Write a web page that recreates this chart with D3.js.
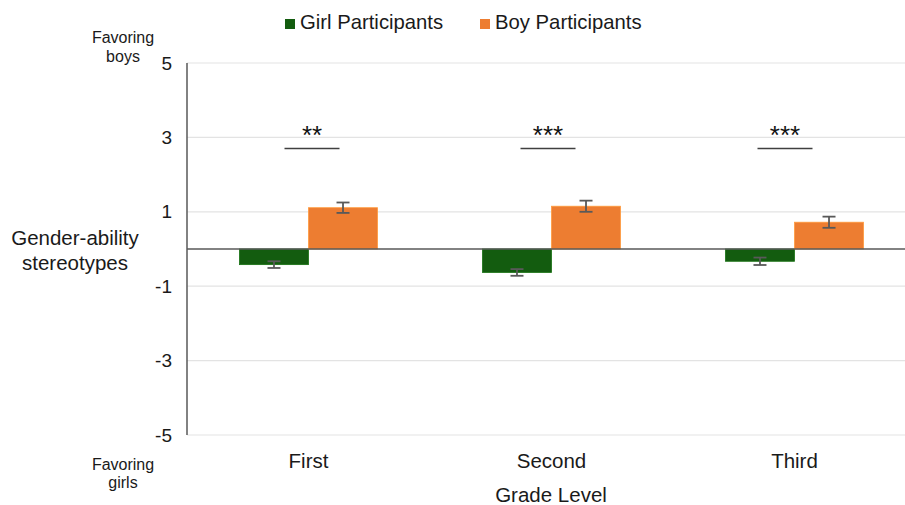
<!DOCTYPE html>
<html>
<head>
<meta charset="utf-8">
<script src="https://cdn.jsdelivr.net/npm/d3@7"></script>
<style>
  html, body { margin: 0; padding: 0; background: #ffffff; }
  svg { display: block; font-family: "Liberation Sans", Arial, sans-serif; }
</style>
</head>
<body>
<svg id="chart" width="905" height="505"></svg>
<script>
// Grade levels and the two participant groups
const grades = ["First", "Second", "Third"];
const seriesNames = ["Girl Participants", "Boy Participants"];
const seriesColors = ["#135c0f", "#ed7d31"];

// Mean gender-ability stereotype scores and standard errors
const girlMeans = [-0.42, -0.63, -0.33];
const boyMeans = [1.11, 1.15, 0.72];
const girlErrors = [0.09, 0.09, 0.10];
const boyErrors = [0.14, 0.15, 0.15];

// Significance markers per grade
const sigLabels = ["**", "***", "***"];
const sigLevel = 2.7;

const yTicks = [5, 3, 1, -1, -3, -5];

const svg = d3.select("#chart");
const plotLeft = 187, plotRight = 916, plotTop = 63, plotBottom = 435;
// horizontal nudge of each significance bracket from its group centre (px)
const bracketShift = [3.5, -3.5, -9.5];

const y = d3.scaleLinear().domain([-5, 5]).range([plotBottom, plotTop]);
const x0 = d3.scaleBand().domain(grades).range([plotLeft, plotRight]).paddingInner(0).paddingOuter(0);
const x1 = d3.scaleBand().domain(seriesNames).range([0, x0.bandwidth()]).paddingInner(0).paddingOuter(0.76);

const rows = grades.map((g, i) => ({
  grade: g,
  values: [
    { name: seriesNames[0], mean: girlMeans[i], err: girlErrors[i], color: seriesColors[0] },
    { name: seriesNames[1], mean: boyMeans[i], err: boyErrors[i], color: seriesColors[1] }
  ]
}));

// Horizontal gridlines
svg.append("g")
  .selectAll("line")
  .data(yTicks)
  .join("line")
  .attr("x1", plotLeft).attr("x2", plotRight)
  .attr("y1", d => y(d)).attr("y2", d => y(d))
  .attr("stroke", "#e3e3e3").attr("stroke-width", 1.2);

// Y axis with tick labels only
const yAxis = d3.axisLeft(y).tickValues(yTicks).tickSize(0).tickPadding(15).tickFormat(d => String(d));
const yg = svg.append("g").attr("transform", `translate(${plotLeft},0)`).call(yAxis);
yg.select(".domain").remove();
yg.selectAll("text").attr("font-size", 19).attr("fill", "#1a1a1a")
  .attr("font-family", "'Liberation Sans', Arial, sans-serif");

// Bars
const groups = svg.append("g").selectAll("g")
  .data(rows)
  .join("g")
  .attr("transform", d => `translate(${x0(d.grade)},0)`);

groups.selectAll("rect")
  .data(d => d.values)
  .join("rect")
  .attr("x", d => x1(d.name))
  .attr("width", x1.bandwidth())
  .attr("y", d => y(Math.max(0, d.mean)))
  .attr("height", d => Math.abs(y(d.mean) - y(0)))
  .attr("fill", d => d.color)
  .attr("stroke", d => d3.color(d.color).brighter(0.6))
  .attr("stroke-width", 0.8);

// Error bars
const eb = groups.selectAll("g.err")
  .data(d => d.values)
  .join("g")
  .attr("class", "err")
  .attr("transform", d => `translate(${x1(d.name) + x1.bandwidth() / 2},0)`);
eb.append("line")
  .attr("y1", d => y(d.mean - d.err)).attr("y2", d => y(d.mean + d.err))
  .attr("stroke", "#595959").attr("stroke-width", 1.8);
eb.selectAll("line.cap")
  .data(d => [d.mean - d.err, d.mean + d.err])
  .join("line")
  .attr("class", "cap")
  .attr("x1", -6.5).attr("x2", 6.5)
  .attr("y1", d => y(d)).attr("y2", d => y(d))
  .attr("stroke", "#595959").attr("stroke-width", 1.8);

// Zero baseline and vertical axis line
svg.append("line")
  .attr("x1", plotLeft).attr("x2", plotRight)
  .attr("y1", y(0)).attr("y2", y(0))
  .attr("stroke", "#595959").attr("stroke-width", 1.5);
svg.append("line")
  .attr("x1", plotLeft).attr("x2", plotLeft)
  .attr("y1", y(5)).attr("y2", y(-5))
  .attr("stroke", "#595959").attr("stroke-width", 1.5);

// Significance brackets
const sig = svg.append("g").selectAll("g")
  .data(grades)
  .join("g")
  .attr("transform", (d, i) => `translate(${x0(d) + x0.bandwidth() / 2 + bracketShift[i]},0)`);
sig.append("line")
  .attr("x1", -27.5).attr("x2", 27.5)
  .attr("y1", y(sigLevel)).attr("y2", y(sigLevel))
  .attr("stroke", "#404040").attr("stroke-width", 1.5);
sig.append("text")
  .attr("text-anchor", "middle")
  .attr("y", y(sigLevel) - 5)
  .attr("font-size", 26)
  .attr("fill", "#111")
  .text((d, i) => sigLabels[i]);

// Category labels
svg.append("g").selectAll("text")
  .data(grades)
  .join("text")
  .attr("x", d => x0(d) + x0.bandwidth() / 2)
  .attr("y", 468)
  .attr("text-anchor", "middle")
  .attr("font-size", 20.5)
  .attr("fill", "#1a1a1a")
  .text(d => d);

// Axis titles
svg.append("text")
  .attr("x", 551).attr("y", 502)
  .attr("text-anchor", "middle").attr("font-size", 20.5).attr("fill", "#1a1a1a")
  .text("Grade Level");

const yTitle = svg.append("text")
  .attr("text-anchor", "middle").attr("font-size", 20.5).attr("fill", "#1a1a1a");
yTitle.append("tspan").attr("x", 75).attr("y", 245).text("Gender-ability");
yTitle.append("tspan").attr("x", 75).attr("y", 270).text("stereotypes");

const topNote = svg.append("text")
  .attr("text-anchor", "middle").attr("font-size", 16).attr("fill", "#1a1a1a");
topNote.append("tspan").attr("x", 123).attr("y", 43).text("Favoring");
topNote.append("tspan").attr("x", 123).attr("y", 61.5).text("boys");

const bottomNote = svg.append("text")
  .attr("text-anchor", "middle").attr("font-size", 16).attr("fill", "#1a1a1a");
bottomNote.append("tspan").attr("x", 123).attr("y", 470).text("Favoring");
bottomNote.append("tspan").attr("x", 123).attr("y", 488).text("girls");

// Legend
const legendX = [285, 480];
const legend = svg.append("g").selectAll("g")
  .data(seriesNames)
  .join("g")
  .attr("transform", (d, i) => `translate(${legendX[i]},0)`);
legend.append("rect")
  .attr("x", 0).attr("y", 19).attr("width", 10).attr("height", 10)
  .attr("fill", (d, i) => seriesColors[i]);
legend.append("text")
  .attr("x", 15).attr("y", 28.5)
  .attr("font-size", 20.3).attr("fill", "#1a1a1a")
  .text(d => d);
</script>
</body>
</html>
